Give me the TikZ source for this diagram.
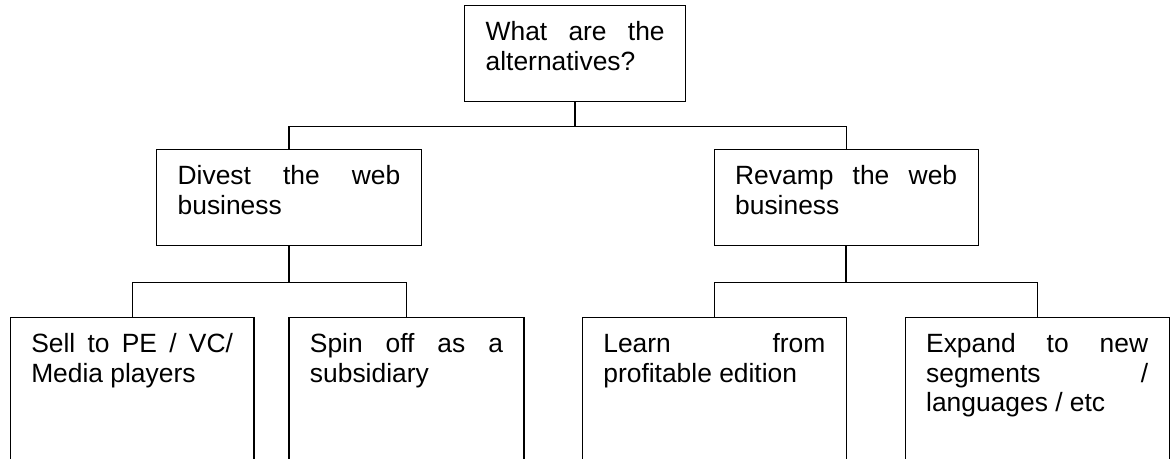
\documentclass[tikz,border=0pt]{standalone}
\usepackage{fontspec}
\setmainfont{Liberation Sans}
\usetikzlibrary{calc}
\newcommand{\boxtext}[3]{\parbox[t][#2][t]{#1}{\rule{0pt}{17.5pt}#3}}
\hbadness=10000
\tikzset{
    choice/.style={
    rectangle,draw=black,line width=0.65pt,inner xsep=10.5pt,inner ysep=0pt,anchor=north west,
    font=\fontsize{13.2pt}{14.75pt}\selectfont
    },
    stem/.style={
    draw=black,line width=1.3pt
    },
    branch/.style={
    draw=black,line width=0.6pt
    },
}

\begin{document}
\begin{tikzpicture}[x=0.5pt,y=-0.5pt]
   \useasboundingbox (0,0) rectangle (1171,459);
   \clip (0,0) rectangle (1171,459);
   \node[choice] (question) at (464,5) {\boxtext{89.5pt}{48pt}{What are the\linebreak alternatives?}};
   \node[choice] (divest) at (156,149) {\boxtext{111.3pt}{48pt}{Divest the web\linebreak business}};
   \node[choice] (revamp) at (713.5,149) {\boxtext{111pt}{48pt}{Revamp the web\linebreak business}};
   \node[choice] (sell) at (9.6,317) {\boxtext{100.85pt}{80pt}{Sell to PE / VC/\linebreak Media players}};
   \node[choice] (spinoff) at (288.3,317) {\boxtext{96.5pt}{80pt}{Spin off as a\linebreak subsidiary}};
   \node[choice] (learn) at (581.7,317) {\boxtext{111pt}{80pt}{Learn from\linebreak profitable edition}};
   \node[choice] (expand) at (904.5,317) {\boxtext{111pt}{80pt}{Expand to new\linebreak segments /\linebreak languages / etc}};

   \draw[stem] (question.south) -- ++(0,24) coordinate (qfork);
   \path[branch] (divest.north) |- (qfork) -| (revamp.north);
   \draw[stem] (divest.south) -- ++(0,36) coordinate (dfork);
   \path[branch] (sell.north) |- (dfork) -| (spinoff.north);
   \draw[stem] (revamp.south) -- ++(0,36) coordinate (rfork);
   \path[branch] (learn.north) |- (rfork) -| (expand.north);
\end{tikzpicture}
\end{document}
